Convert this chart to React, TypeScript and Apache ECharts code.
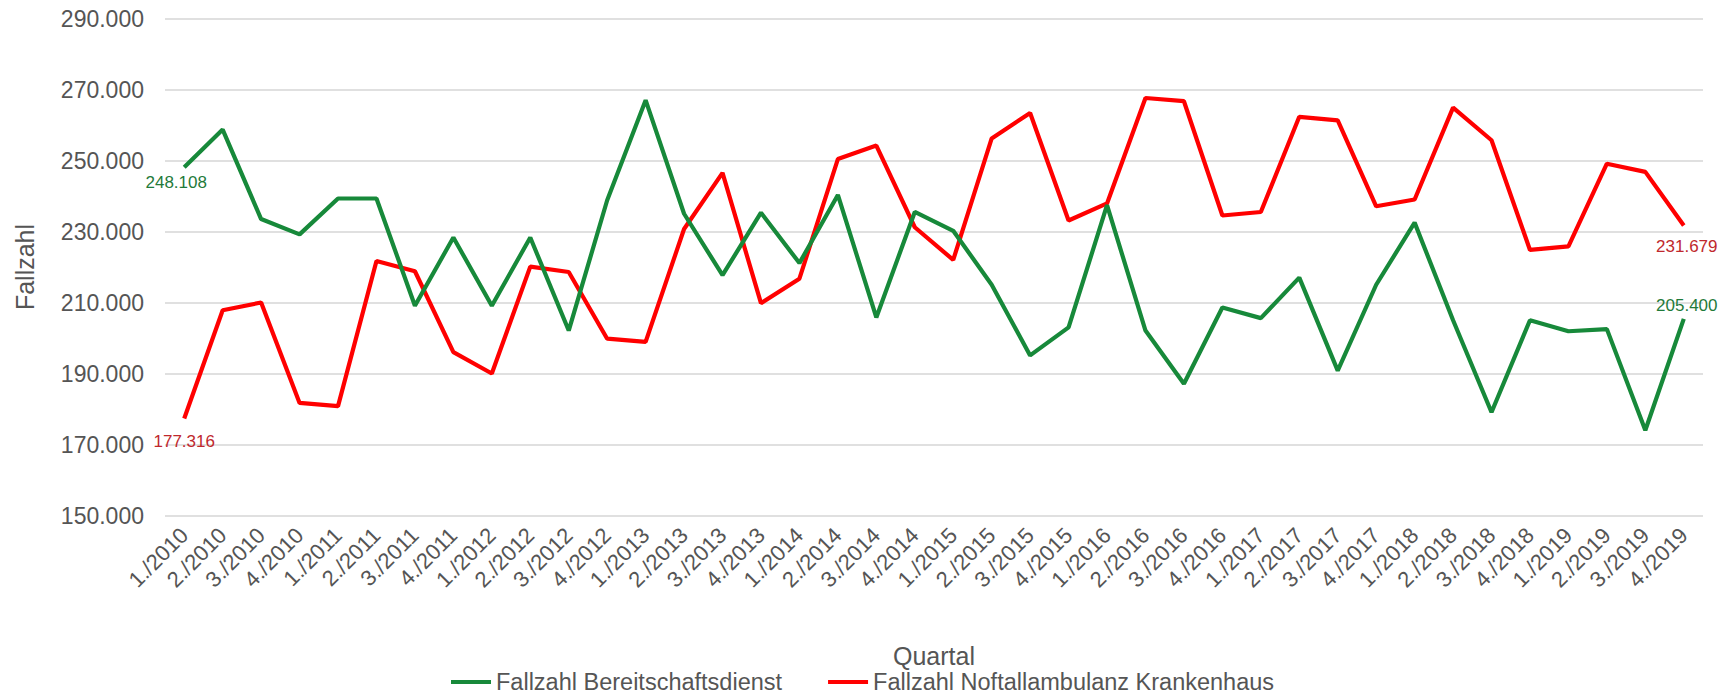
import React, { useEffect, useRef } from "react";
import * as echarts from "echarts";

const quarters: string[] = [
  "1./2010", "2./2010", "3./2010", "4./2010",
  "1./2011", "2./2011", "3./2011", "4./2011",
  "1./2012", "2./2012", "3./2012", "4./2012",
  "1./2013", "2./2013", "3./2013", "4./2013",
  "1./2014", "2./2014", "3./2014", "4./2014",
  "1./2015", "2./2015", "3./2015", "4./2015",
  "1./2016", "2./2016", "3./2016", "4./2016",
  "1./2017", "2./2017", "3./2017", "4./2017",
  "1./2018", "2./2018", "3./2018", "4./2018",
  "1./2019", "2./2019", "3./2019", "4./2019",
];

const bereitschaftsdienst: number[] = [
  248108, 258700, 233500, 229200, 239300, 239300, 209100, 228300,
  209100, 228300, 202100, 238800, 267000, 235000, 217700, 235300,
  221100, 240300, 205800, 235500, 230200, 215000, 195100, 203000,
  237400, 202100, 187100, 208600, 205600, 217000, 190800, 215000,
  232500, 205000, 179100, 205000, 201900, 202500, 174000, 205400,
];

const notfallambulanz: number[] = [
  177316, 207800, 210000, 181700, 180800, 221700, 218800, 196000,
  190000, 220100, 218600, 199800, 198900, 230700, 246500, 209800,
  216700, 250400, 254200, 231200, 222000, 256200, 263400, 233100,
  237900, 267600, 266700, 234500, 235500, 262300, 261300, 237100,
  239000, 264900, 255700, 224800, 225800, 249100, 246800, 231679,
];

const seriesNames: string[] = [
  "Fallzahl Bereitschaftsdienst",
  "Fallzahl Noftallambulanz Krankenhaus",
];

const yMin = 150000;
const yMax = 290000;
const yStep = 20000;

const FONT = "'Liberation Sans', Arial, Helvetica, sans-serif";
const GREEN = "#17893a";
const RED = "#ff0000";

const fmt = (v: number) =>
  String(Math.round(v)).replace(/\B(?=(\d{3})+(?!\d))/g, ".");

function withEndLabels(
  values: number[],
  color: string,
  first: { position: string; distance: number; offset: number[] },
  last: { position: string; distance: number; offset: number[] }
) {
  const n = values.length;
  return values.map((v, i) => {
    if (i === 0 || i === n - 1) {
      const cfg = i === 0 ? first : last;
      return {
        value: v,
        label: {
          show: true,
          position: cfg.position,
          distance: cfg.distance,
          offset: cfg.offset,
          color,
          fontSize: 17,
          fontFamily: FONT,
          formatter: (p: any) => fmt(p.value),
        },
      };
    }
    return v;
  });
}

export default function App() {
  const ref = useRef<HTMLDivElement>(null);

  useEffect(() => {
    if (!ref.current) return;
    const chart = echarts.init(ref.current, undefined, { renderer: "svg" });
    chart.setOption({
      animation: false,
      backgroundColor: "#ffffff",
      textStyle: { fontFamily: FONT },
      grid: { left: 165, right: 29, top: 18.5, height: 497 },
      legend: {
        show: true,
        left: 451,
        top: 670,
        padding: 0,
        itemGap: 46,
        itemWidth: 40,
        itemHeight: 4,
        icon: "rect",
        textStyle: { fontSize: 23.5, color: "#555555", fontFamily: FONT },
        data: seriesNames,
      },
      xAxis: {
        type: "category",
        data: quarters,
        boundaryGap: true,
        name: "Quartal",
        nameLocation: "middle",
        nameGap: 128,
        nameTextStyle: { fontSize: 25, color: "#555555", fontFamily: FONT },
        axisLine: { show: false },
        axisTick: { show: false },
        axisLabel: {
          interval: 0,
          rotate: 45,
          margin: 16,
          fontSize: 22,
          color: "#555555",
          fontFamily: FONT,
        },
      },
      yAxis: {
        type: "value",
        min: yMin,
        max: yMax,
        interval: yStep,
        name: "Fallzahl",
        nameLocation: "middle",
        nameGap: 128,
        nameTextStyle: { fontSize: 25, color: "#555555", fontFamily: FONT },
        axisLine: { show: false },
        axisTick: { show: false },
        axisLabel: {
          margin: 21,
          fontSize: 23,
          color: "#555555",
          fontFamily: FONT,
          formatter: (v: number) => fmt(v),
        },
        splitLine: { show: true, lineStyle: { color: "#d6d6d6", width: 1.5 } },
      },
      series: [
        {
          name: seriesNames[0],
          type: "line",
          data: withEndLabels(
            bereitschaftsdienst,
            "#1f7a3a",
            { position: "bottom", distance: 7, offset: [-8, 0] },
            { position: "top", distance: 5, offset: [3, 0] }
          ),
          showSymbol: true,
          symbol: "circle",
          symbolSize: 0,
          lineStyle: { color: GREEN, width: 4.2 },
          itemStyle: { color: GREEN },
          z: 3,
        },
        {
          name: seriesNames[1],
          type: "line",
          data: withEndLabels(
            notfallambulanz,
            "#c0282d",
            { position: "bottom", distance: 14, offset: [0, 0] },
            { position: "bottom", distance: 12, offset: [3, 0] }
          ),
          showSymbol: true,
          symbol: "circle",
          symbolSize: 0,
          lineStyle: { color: RED, width: 4.2 },
          itemStyle: { color: RED },
          z: 2,
        },
      ],
    });
    return () => chart.dispose();
  }, []);

  return (
    <div
      ref={ref}
      style={{ position: "fixed", left: 0, top: 0, width: 1732, height: 694 }}
    />
  );
}
